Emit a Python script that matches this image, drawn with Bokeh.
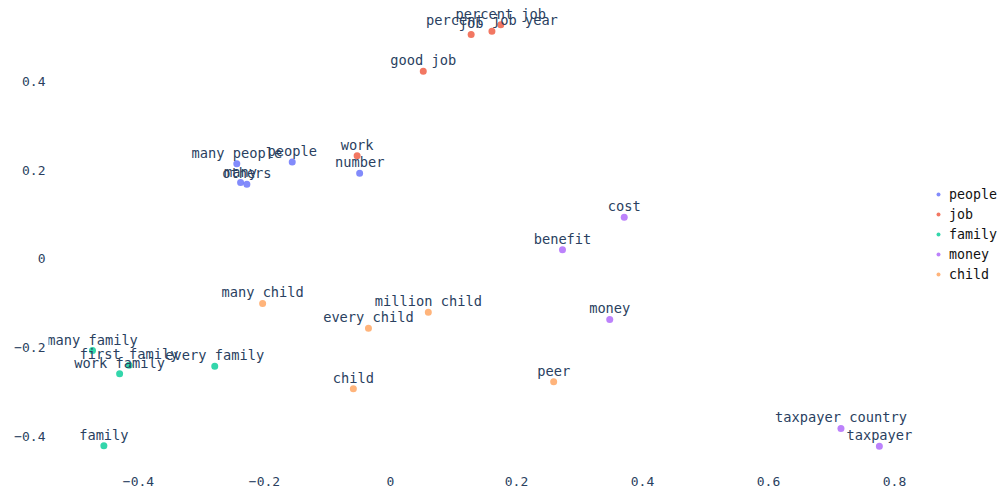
from bokeh.plotting import figure
from bokeh.models import FixedTicker, CustomJSTickFormatter, Legend, LegendItem, ColumnDataSource
from bokeh.core.properties import value
from bokeh.embed import file_html
from bokeh.resources import INLINE

# ---- data ----
groups = ["people", "job", "family", "money", "child"]
colors = ["#636efa", "#EF553B", "#00cc96", "#ab63fa", "#FFA15A"]

people_words = ["many people", "people", "many", "others", "number"]
people_x = [-0.244, -0.156, -0.238, -0.228, -0.049]
people_y = [0.214, 0.218, 0.172, 0.168, 0.193]

job_words = ["percent job", "percent job year", "job", "good job", "work"]
job_x = [0.175, 0.161, 0.128, 0.052, -0.053]
job_y = [0.527, 0.512, 0.505, 0.422, 0.232]

family_words = ["many family", "first family", "work family", "every family", "family"]
family_x = [-0.473, -0.415, -0.430, -0.279, -0.455]
family_y = [-0.206, -0.239, -0.258, -0.241, -0.420]

money_words = ["cost", "benefit", "money", "taxpayer country", "taxpayer"]
money_x = [0.371, 0.273, 0.348, 0.715, 0.776]
money_y = [0.094, 0.021, -0.136, -0.381, -0.421]

child_words = ["many child", "million child", "every child", "child", "peer"]
child_x = [-0.203, 0.060, -0.035, -0.059, 0.259]
child_y = [-0.100, -0.120, -0.156, -0.292, -0.276]

x_ticks = [-0.4, -0.2, 0, 0.2, 0.4, 0.6, 0.8]
y_ticks = [-0.4, -0.2, 0, 0.2, 0.4]

series = [
    (people_words, people_x, people_y),
    (job_words, job_x, job_y),
    (family_words, family_x, family_y),
    (money_words, money_x, money_y),
    (child_words, child_x, child_y),
]

FONT = "DejaVu Sans Mono"
TXT = "#2a3f5f"

p = figure(
    frame_width=950, frame_height=466,
    min_border_left=48, min_border_right=0, min_border_top=0, min_border_bottom=23,
    x_range=(-0.5429, 0.9651), y_range=(-0.4667, 0.5814),
    output_backend="svg", toolbar_location=None,
)
p.outline_line_color = None
p.xgrid.visible = False
p.ygrid.visible = False
p.background_fill_color = "white"

fmt = CustomJSTickFormatter(code="""
if (Math.abs(tick) < 1e-9) return "0";
return tick.toFixed(1).replace("-", "\\u2212");
""")

for ax, ticks in ((p.xaxis[0], x_ticks), (p.yaxis[0], y_ticks)):
    ax.ticker = FixedTicker(ticks=ticks)
    ax.formatter = fmt
    ax.axis_line_color = None
    ax.major_tick_line_color = None
    ax.minor_tick_line_color = None
    ax.major_label_text_font = FONT
    ax.major_label_text_font_size = "13px"
    ax.major_label_text_color = TXT
p.xaxis[0].major_label_standoff = 4
p.yaxis[0].major_label_standoff = -3

items = []
for name, col, (words, xs, ys) in zip(groups, colors, series):
    src = ColumnDataSource(dict(x=xs, y=ys, w=words))
    r = p.scatter("x", "y", source=src, size=7, fill_color=col, line_color=None, fill_alpha=0.8)
    items.append(LegendItem(label=name, renderers=[r]))
    p.text("x", "y", text="w", source=src, text_font=value(FONT), text_font_size="13.7px",
           text_color=TXT, text_align="center", text_baseline="middle", y_offset=-11)

legend = Legend(items=items, location=(885, 182))
legend.padding = 0
legend.margin = 0
legend.spacing = 0
legend.glyph_width = 10
legend.glyph_height = 20
legend.label_height = 20
legend.label_standoff = 6
legend.label_text_font = FONT
legend.label_text_font_size = "13.3px"
legend.label_text_color = "#111111"
legend.background_fill_alpha = 0
legend.border_line_color = None
p.add_layout(legend, "center")

open("out.html", "w").write(file_html(p, INLINE))
